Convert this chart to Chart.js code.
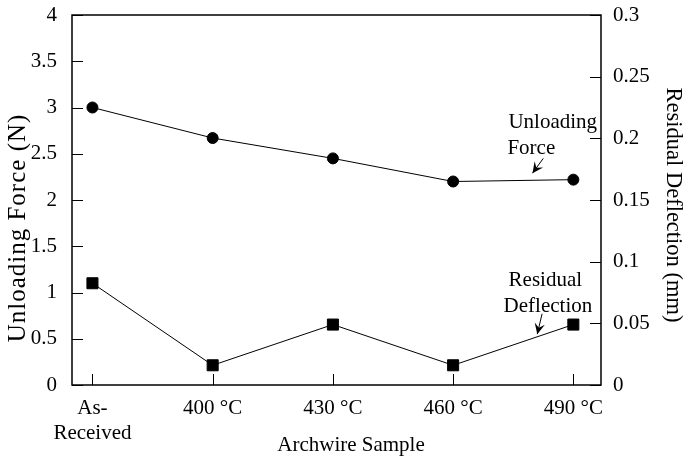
<!DOCTYPE html>
<html>
<head>
<meta charset="utf-8">
<script src="https://cdn.jsdelivr.net/npm/chart.js@4"></script>
<style>
  body { margin: 0; background: #fff; }
  #wrap { width: 684px; height: 459px; }
</style>
</head>
<body>
<div id="wrap"><canvas id="myChart" width="684" height="459"></canvas></div>
<script>
// sample names on the x axis
const samples = [['As-', 'Received'], '400 °C', '430 °C', '460 °C', '490 °C'];
// unloading force (N), left axis
const unloadingForce = [3.0, 2.67, 2.45, 2.2, 2.22];
// residual deflection (mm), right axis
const residualDeflection = [0.0825, 0.016, 0.049, 0.016, 0.049];
// axis titles
const xTitle = 'Archwire Sample';
const yTitle = 'Unloading Force (N)';
const y1Title = 'Residual Deflection (mm)';

const FONT = "'Liberation Serif', 'Times New Roman', serif";
const FS = 21;

const toXY = (arr) => arr.map((v, i) => ({x: i, y: v}));
const fmt = (v) => String(+Number(v).toFixed(2));

// arrows + labels next to the lines, anchored in data units (left axis)
const notes = [
  {lines: ['Unloading', 'Force'], dx: [0, -1], x: 3.46, y: 2.84, from: [3.75, 2.45], to: [3.66, 2.29]},
  {lines: ['Residual', 'Deflection'], dx: [5, 0], x: 3.42, y: 1.13, from: [3.74, 0.77], to: [3.7, 0.55]}
];

// inward tick marks, frame, axis titles and notes
const decor = {
  id: 'decor',
  afterDraw(chart) {
    const ctx = chart.ctx;
    const {left, right, top, bottom} = chart.chartArea;
    const xs = chart.scales.x, yl = chart.scales.y, yr = chart.scales.y1;
    ctx.save();
    ctx.strokeStyle = '#000';
    ctx.lineWidth = 1;
    ctx.beginPath();
    yl.ticks.forEach(t => {
      const y = Math.round(yl.getPixelForValue(t.value)) + 0.5;
      ctx.moveTo(left, y); ctx.lineTo(left + 11, y);
    });
    yr.ticks.forEach(t => {
      const y = Math.round(yr.getPixelForValue(t.value)) + 0.5;
      ctx.moveTo(right, y); ctx.lineTo(right - 11, y);
    });
    xs.ticks.forEach(t => {
      const x = Math.round(xs.getPixelForValue(t.value)) + 0.5;
      ctx.moveTo(x, bottom); ctx.lineTo(x, bottom - 11);
    });
    ctx.stroke();
    ctx.lineWidth = 1.5;
    ctx.strokeRect(left, top, right - left, bottom - top);

    ctx.fillStyle = '#000';
    ctx.textBaseline = 'middle';

    // axis titles
    ctx.textAlign = 'center';
    ctx.font = FS + 'px ' + FONT;
    ctx.fillText(xTitle, 351, 445);
    ctx.save();
    ctx.translate(18, 228);
    ctx.rotate(-Math.PI / 2);
    ctx.font = '25px ' + FONT;
    ctx.letterSpacing = '1px';
    ctx.fillText(yTitle, 0, 0);
    ctx.restore();
    ctx.save();
    ctx.translate(673, 205);
    ctx.rotate(Math.PI / 2);
    ctx.font = '22.5px ' + FONT;
    ctx.fillText(y1Title, 0, 0);
    ctx.restore();

    // notes
    ctx.font = FS + 'px ' + FONT;
    ctx.textAlign = 'left';
    notes.forEach(n => {
      const tx = xs.getPixelForValue(n.x), ty = yl.getPixelForValue(n.y);
      n.lines.forEach((s, i) => ctx.fillText(s, tx + n.dx[i], ty + i * 26));
      const x1 = xs.getPixelForValue(n.from[0]), y1 = yl.getPixelForValue(n.from[1]);
      const x2 = xs.getPixelForValue(n.to[0]), y2 = yl.getPixelForValue(n.to[1]);
      ctx.lineWidth = 1;
      ctx.beginPath();
      ctx.moveTo(x1, y1); ctx.lineTo(x2, y2);
      ctx.stroke();
      const a = Math.atan2(y2 - y1, x2 - x1);
      const L = 12, w = 0.45;
      ctx.beginPath();
      ctx.moveTo(x2, y2);
      ctx.lineTo(x2 - L * Math.cos(a - w), y2 - L * Math.sin(a - w));
      ctx.lineTo(x2 - 0.55 * L * Math.cos(a), y2 - 0.55 * L * Math.sin(a));
      ctx.lineTo(x2 - L * Math.cos(a + w), y2 - L * Math.sin(a + w));
      ctx.closePath();
      ctx.fill();
    });
    ctx.restore();
  }
};

const tickFont = {family: FONT, size: FS};
const noPad = (s, w) => { s.width = w; s.paddingTop = 0; s.paddingBottom = 0; };

const config = {
  type: 'line',
  data: {
    datasets: [{
      label: 'Unloading Force',
      data: toXY(unloadingForce),
      yAxisID: 'y',
      borderColor: '#000',
      backgroundColor: '#000',
      borderWidth: 1,
      pointStyle: 'circle',
      pointRadius: 5.5,
      tension: 0
    }, {
      label: 'Residual Deflection',
      data: toXY(residualDeflection),
      yAxisID: 'y1',
      borderColor: '#000',
      backgroundColor: '#000',
      borderWidth: 1,
      pointStyle: 'rect',
      pointRadius: 7.8,
      tension: 0
    }]
  },
  plugins: [decor],
  options: {
    responsive: false,
    animation: false,
    layout: {padding: {top: 15, left: 0, right: 0, bottom: 0}},
    plugins: {legend: {display: false}, tooltip: {enabled: false}},
    scales: {
      x: {
        type: 'linear',
        min: -0.17,
        max: 4.23,
        afterBuildTicks: (s) => { s.ticks = samples.map((_, i) => ({value: i})); },
        afterFit: (s) => { s.height = 74; s.paddingLeft = 0; s.paddingRight = 0; },
        grid: {display: false, drawTicks: false},
        border: {display: false},
        ticks: {
          color: '#000',
          font: tickFont,
          padding: 11,
          maxRotation: 0,
          callback: (v) => samples[v]
        }
      },
      y: {
        position: 'left',
        min: 0,
        max: 4,
        afterFit: (s) => noPad(s, 72),
        grid: {display: false, drawTicks: false},
        border: {display: false},
        ticks: {stepSize: 0.5, color: '#000', font: tickFont, padding: 15, callback: fmt}
      },
      y1: {
        position: 'right',
        min: 0,
        max: 0.3,
        afterFit: (s) => noPad(s, 83),
        grid: {display: false, drawTicks: false},
        border: {display: false},
        ticks: {stepSize: 0.05, color: '#000', font: tickFont, padding: 12, callback: fmt}
      }
    }
  }
};

const ctx = document.getElementById('myChart').getContext('2d');
const myChart = new Chart(ctx, config);
</script>
</body>
</html>
